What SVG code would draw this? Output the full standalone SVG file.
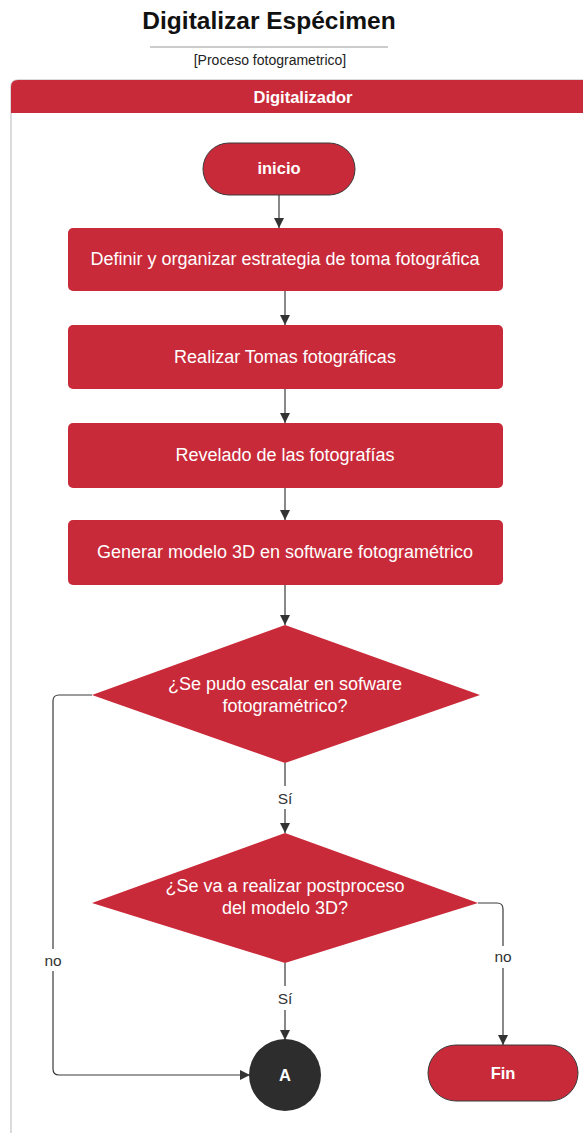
<svg xmlns="http://www.w3.org/2000/svg" width="583" height="1133" viewBox="0 0 583 1133">
  <style>
    .red { fill: #c92a39; }
    .term { fill: #c92a39; stroke: #3a3a3a; stroke-width: 1; }
    .lbl { font-family: "Liberation Sans", Arial, sans-serif; font-size: 18px; fill: #ffffff; text-anchor: middle; }
    .b { font-weight: bold; font-size: 16.5px; }
    .edge { fill: none; stroke: #3a3a3a; stroke-width: 1.2; }
    .elbl { font-family: "Liberation Sans", Arial, sans-serif; font-size: 15.5px; fill: #333333; text-anchor: middle; }
  </style>
  <defs>
    <marker id="arr" viewBox="0 0 10 10" refX="10" refY="5" markerWidth="10" markerHeight="10" markerUnits="userSpaceOnUse" orient="auto">
      <path d="M0,0 L10,5 L0,10 Z" fill="#333333"/>
    </marker>
  </defs>
  <rect width="583" height="1133" fill="#ffffff"/>

  <!-- title -->
  <g id="title">
    <text x="269" y="29" font-family="Liberation Sans, Arial, sans-serif" font-size="24.5" font-weight="bold" fill="#111111" text-anchor="middle">Digitalizar Espécimen</text>
    <line x1="150" y1="47" x2="388" y2="47" stroke="#9a9a9a" stroke-width="1.2"/>
    <text x="270" y="65" font-family="Liberation Sans, Arial, sans-serif" font-size="14" fill="#222222" text-anchor="middle">[Proceso fotogrametrico]</text>
  </g>

  <!-- swimlane -->
  <g id="lane">
    <path d="M11,1133 V87 Q11,80 18,80 H590" fill="none" stroke="#d0d0d0" stroke-width="1.5"/>
    <path d="M11,113 V87 Q11,80 18,80 H590 V113 Z" class="red"/>
    <text x="303" y="103" class="lbl b">Digitalizador</text>
  </g>

  <!-- connectors -->
  <g id="connectors">
    <path class="edge" d="M279,195 V228" marker-end="url(#arr)"/>
    <path class="edge" d="M285,291 V325" marker-end="url(#arr)"/>
    <path class="edge" d="M285,389 V423" marker-end="url(#arr)"/>
    <path class="edge" d="M285,488 V520" marker-end="url(#arr)"/>
    <path class="edge" d="M285,585 V625" marker-end="url(#arr)"/>
    <path class="edge" d="M285,763 V786 M285,809 V833" marker-end="url(#arr)"/>
    <text class="elbl" x="285" y="804">Sí</text>
    <path class="edge" d="M285,963 V986 M285,1010 V1040" marker-end="url(#arr)"/>
    <text class="elbl" x="285" y="1004">Sí</text>
    <path class="edge" d="M92,695 H59 Q53,695 53,701 V949 M53,971 V1069 Q53,1075 59,1075 H250" marker-end="url(#arr)"/>
    <text class="elbl" x="53" y="966">no</text>
    <path class="edge" d="M478,903 H497 Q503,903 503,909 V946 M503,968 V1045" marker-end="url(#arr)"/>
    <text class="elbl" x="503" y="962">no</text>
  </g>

  <g id="inicio">
    <rect class="term" x="203" y="143" width="152" height="52" rx="26"/>
    <text class="lbl b" x="279" y="174">inicio</text>
  </g>
  <g id="definir">
    <rect class="red" x="68" y="228" width="435" height="63" rx="5"/>
    <text class="lbl" x="285" y="265">Definir y organizar estrategia de toma fotográfica</text>
  </g>
  <g id="tomas">
    <rect class="red" x="68" y="325" width="435" height="64" rx="5"/>
    <text class="lbl" x="285" y="363">Realizar Tomas fotográficas</text>
  </g>
  <g id="revelado">
    <rect class="red" x="68" y="423" width="435" height="65" rx="5"/>
    <text class="lbl" x="285" y="461">Revelado de las fotografías</text>
  </g>
  <g id="generar">
    <rect class="red" x="68" y="520" width="435" height="65" rx="5"/>
    <text class="lbl" x="285" y="558">Generar modelo 3D en software fotogramétrico</text>
  </g>
  <g id="escalar">
    <path class="red" d="M285,625 L480,695 L285,763 L92,695 Z"/>
    <text class="lbl" x="285" y="690">¿Se pudo escalar en sofware</text>
    <text class="lbl" x="285" y="712">fotogramétrico?</text>
  </g>
  <g id="postproceso">
    <path class="red" d="M285,833 L478,903 L285,963 L92,903 Z"/>
    <text class="lbl" x="285" y="892">¿Se va a realizar postproceso</text>
    <text class="lbl" x="285" y="914">del modelo 3D?</text>
  </g>
  <g id="conector-a">
    <circle cx="285" cy="1075" r="36" fill="#2d2d2d"/>
    <text class="lbl b" x="285" y="1081">A</text>
  </g>
  <g id="fin">
    <rect class="term" x="428" y="1045" width="150" height="56" rx="28"/>
    <text class="lbl b" x="503" y="1079">Fin</text>
  </g>
</svg>
